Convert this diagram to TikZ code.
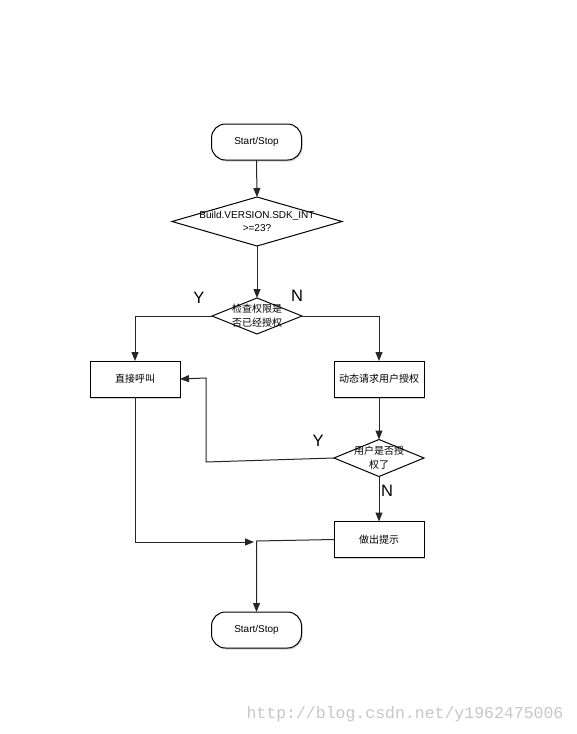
\documentclass[tikz,border=0pt]{standalone}
\usepackage{fontspec}
\setmainfont{Liberation Sans}
\newfontfamily\cjk{Noto Sans CJK SC}
\newfontfamily\wmfont{Liberation Mono}
\usetikzlibrary{shapes.geometric,arrows.meta,shadows}
\begin{document}
\begin{tikzpicture}[x=1pt,y=-1pt,
  base/.style={draw=black,line width=1pt,fill=white,inner sep=0pt,outer sep=0pt,font=\fontsize{10}{11}\selectfont},
  term/.style={base,rectangle,rounded corners=14pt,minimum width=90pt,minimum height=36pt,
     drop shadow={shadow xshift=1.2pt,shadow yshift=-1.5pt,opacity=0.35}},
  procbox/.style={base,rectangle,minimum width=90pt,minimum height=36pt,font=\cjk\fontsize{10}{11}\selectfont,
     drop shadow={shadow xshift=1.2pt,shadow yshift=-1.5pt,opacity=0.35}},
  dia/.style={base,diamond,minimum width=#1},
  dtext/.style={inner sep=0pt,align=center,font=\fontsize{10}{12.5}\selectfont},
  ctext/.style={inner sep=0pt,align=center,font=\cjk\fontsize{10}{14}\selectfont},
  yn/.style={inner sep=0pt,font=\fontsize{16.5}{16.5}\selectfont},
  conn/.style={draw=black!85,line width=1pt},
  arr/.style={conn,-{Triangle[length=9pt,width=7pt]}}
]
\useasboundingbox (0,0) rectangle (576,734);
\fill[white] (0,0) rectangle (576,734);

% nodes
\node[term] (s1) at (256.5,142) {Start/Stop};
\node[dia=170pt,minimum height=49pt] (d1) at (257,221.5) {};
\node[dtext] (d1t) at (d1) {Build.VERSION.SDK\_INT\\>=23?};
\node[dia=90pt,minimum height=36pt] (d2) at (257,316) {};
\node[ctext] (d2t) at (d2) {检查权限是\\否已经授权};
\node[procbox] (b1) at (135,379) {直接呼叫};
\node[procbox] (b2) at (379,379) {动态请求用户授权};
\node[dia=90pt,minimum height=37pt] (d3) at (379,458) {};
\node[ctext] (d3t) at (d3) {用户是否授\\权了};
\node[procbox] (b4) at (379,539.5) {做出提示};
\node[term] (s2) at (256.5,630) {Start/Stop};

% labels
\node[yn] (y1) at (199,298) {Y};
\node[yn] (n1) at (297,296) {N};
\node[yn] (y2) at (318,441) {Y};
\node[yn] (n2) at (387,491) {N};

% coordinates
\coordinate (c1) at (135,316);
\coordinate (c2) at (379,316);
\coordinate (c3) at (206,462);
\coordinate (c4) at (206,378);
\coordinate (c5) at (135,542);
\coordinate (c6) at (254,542);
\coordinate (c7) at (256.5,541);

% connectors
\draw[arr] (s1.south) -- (d1.north);
\draw[arr] (d1.south) -- (d2.north);
\draw[arr] (d2.west) -- (c1) -- (b1.north);
\draw[arr] (d2.east) -- (c2) -- (b2.north);
\draw[arr] (b2.south) -- (d3.north);
\draw[arr] (d3.west) -- (c3) -- (c4) -- (b1.east);
\draw[arr] (d3.south) -- (b4.north);
\draw[arr] (b1.south) -- (c5) -- (c6);
\draw[arr] (b4.west) -- (c7) -- (s2.north);

% watermark
\node[inner sep=0pt,text=black!22,font=\wmfont\fontsize{16.5}{16.5}\selectfont] (wm) at (405,714) {http://blog.csdn.net/y1962475006};
\end{tikzpicture}
\end{document}
